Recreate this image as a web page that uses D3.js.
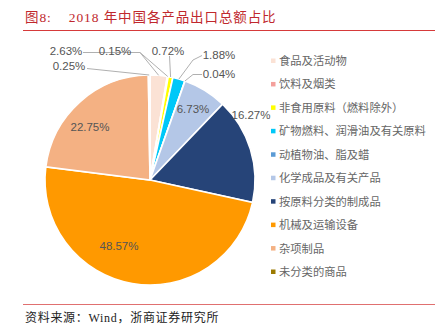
<!DOCTYPE html>
<html>
<head>
<meta charset="utf-8">
<script src="https://cdn.jsdelivr.net/npm/d3@7"></script>
<style>
  body { margin: 0; background: #fff; }
  svg { display: block; }
</style>
</head>
<body>
<div id="chart"></div>
<script>
const categories = [
    '食品及活动物', '饮料及烟类', '非食用原料（燃料除外）', '矿物燃料、润滑油及有关原料',
    '动植物油、脂及蜡', '化学成品及有关产品', '按原料分类的制成品', '机械及运输设备',
    '杂项制品', '未分类的商品'
];
const shares = [2.63, 0.15, 0.72, 1.88, 0.04, 6.73, 16.27, 48.57, 22.75, 0.25];
const colors = ['#fbe2d5', '#f4a09c', '#ffff00', '#00c8f8', '#5b9bd5', '#b4c7e7',
    '#264478', '#ff9900', '#f4b183', '#9c7a00'];

const width = 445;
const height = 334;

const svg = d3.select('#chart')
    .append('svg')
    .attr('width', width)
    .attr('height', height);

// title + rules
const serif = '"Liberation Serif", "Noto Sans CJK SC", serif';

svg.append('text')
    .attr('x', 25)
    .attr('y', 22)
    .attr('fill', '#c0282d')
    .style('font-family', serif)
    .style('font-size', '13.5px')
    .style('white-space', 'pre')
    .style('letter-spacing', '0.9px')
    .text('图8:    2018 年中国各产品出口总额占比');

svg.append('line')
    .attr('x1', 23).attr('x2', 435)
    .attr('y1', 30.5).attr('y2', 30.5)
    .attr('stroke', '#d63a3a')
    .attr('stroke-width', 1);

svg.append('line')
    .attr('x1', 23).attr('x2', 435)
    .attr('y1', 304.5).attr('y2', 304.5)
    .attr('stroke', '#e07070')
    .attr('stroke-width', 1.2);

svg.append('text')
    .attr('x', 25)
    .attr('y', 322)
    .attr('fill', '#222')
    .style('font-family', serif)
    .style('font-size', '12px')
    .style('letter-spacing', '0.7px')
    .text('资料来源：Wind，浙商证券研究所');

// pie
const cx = 150, cy = 180, radius = 105;
const data = categories.map((c, i) => ({ name: c, value: shares[i], color: colors[i] }));

const pie = d3.pie()
    .value(d => d.value)
    .sort(null)
    .startAngle(0)
    .endAngle(2 * Math.PI);

const arc = d3.arc().innerRadius(0).outerRadius(radius);
const rimArc = d3.arc().innerRadius(radius).outerRadius(radius);

const arcs = pie(data);

const g = svg.append('g')
    .attr('transform', `translate(${cx}, ${cy})`);

g.selectAll('path.slice')
    .data(arcs)
    .enter()
    .append('path')
    .classed('slice', true)
    .attr('d', arc)
    .attr('fill', d => d.data.color)
    .attr('stroke', '#fff')
    .attr('stroke-width', 1.6);

// label placement (absolute page coords), leader lines for the small slices
const labelFont = '"Liberation Sans", Arial, sans-serif';
const labelSpots = [
    { x: 66, y: 55, line: [[83, 52.5], [140, 52.5]] },      // 2.63
    { x: 115, y: 55, line: [[133, 52.5], [140, 52.5]] },    // 0.15
    { x: 168, y: 55, line: [[169.5, 56]] },                 // 0.72
    { x: 219, y: 59, line: [[202, 55.5], [193, 60]] },      // 1.88
    { x: 219, y: 78, line: [[202, 74.5], [193, 74.5]] },    // 0.04
    { x: 193, y: 113 },                                     // 6.73
    { x: 251, y: 119 },                                     // 16.27
    { x: 119, y: 250 },                                     // 48.57
    { x: 90, y: 131 },                                      // 22.75
    { x: 69, y: 70, line: [[87, 68.5]] }                    // 0.25
];

arcs.forEach((a, i) => {
    const spot = labelSpots[i];
    if (spot.line) {
        const [rx, ry] = rimArc.centroid(a);
        const pts = spot.line.concat([[cx + rx, cy + ry]]);
        svg.append('path')
            .attr('d', d3.line()(pts))
            .attr('fill', 'none')
            .attr('stroke', '#b0b0b0')
            .attr('stroke-width', 1);
    }
    svg.append('text')
        .attr('x', spot.x)
        .attr('y', spot.y)
        .attr('text-anchor', 'middle')
        .attr('fill', '#555')
        .style('font-family', labelFont)
        .style('font-size', '11.5px')
        .text(a.data.value.toFixed(2) + '%');
});

// legend
const legendY = d3.scalePoint()
    .domain(categories)
    .range([61, 272]);

const legend = svg.append('g').classed('legend', true);

legend.selectAll('rect')
    .data(data)
    .enter()
    .append('rect')
    .attr('x', 271)
    .attr('y', d => legendY(d.name) - 2.5)
    .attr('width', 4.5)
    .attr('height', 4.5)
    .attr('fill', d => d.color);

legend.selectAll('text')
    .data(data)
    .enter()
    .append('text')
    .attr('x', 279)
    .attr('y', d => legendY(d.name) + 4)
    .attr('fill', '#666')
    .style('font-family', '"Noto Sans CJK SC", sans-serif')
    .style('font-size', '11.3px')
    .text(d => d.name);
</script>
</body>
</html>
